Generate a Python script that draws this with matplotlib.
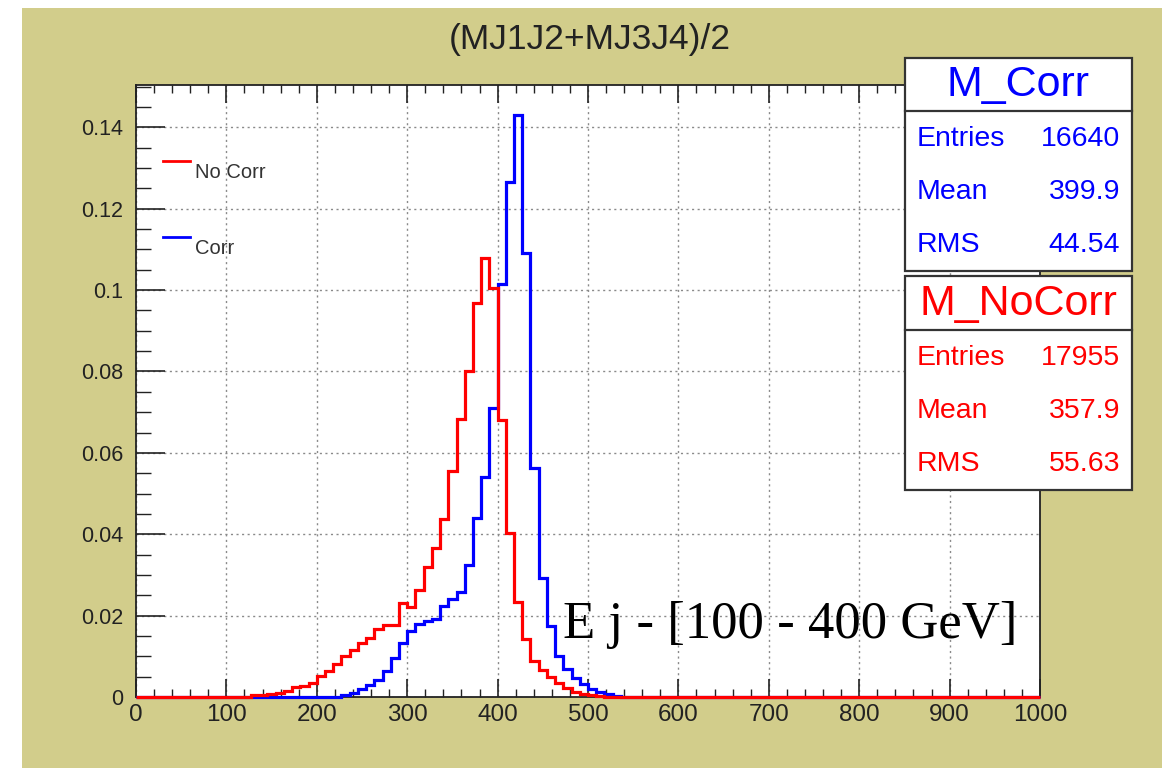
import numpy as np
import matplotlib
matplotlib.use("Agg")
import matplotlib.pyplot as plt
from matplotlib.patches import Rectangle
from matplotlib.lines import Line2D
from matplotlib.ticker import MultipleLocator, FuncFormatter

# ---------------- data ----------------
n_bins = 110
x_min, x_max = 0, 1000

nocorr_start_bin = 14
nocorr_values = [0.0004, 0.0006, 0.0007, 0.0009, 0.0014, 0.0024, 0.0027, 0.0035,
                 0.0051, 0.0064, 0.0080, 0.0100, 0.0115, 0.0133, 0.0145, 0.0168,
                 0.0178, 0.0178, 0.0232, 0.0222, 0.0263, 0.0320, 0.0367, 0.0438,
                 0.0555, 0.0683, 0.0802, 0.0968, 0.1080, 0.1006, 0.0681, 0.0403,
                 0.0233, 0.0143, 0.0088, 0.0066, 0.0050, 0.0034, 0.0022, 0.0013,
                 0.0007, 0.0004, 0.0002]

corr_start_bin = 25
corr_values = [0.0004, 0.0011, 0.0020, 0.0030, 0.0043, 0.0064, 0.0097, 0.0133,
               0.0163, 0.0179, 0.0188, 0.0192, 0.0223, 0.0241, 0.0259, 0.0325,
               0.0439, 0.0541, 0.0709, 0.1014, 0.1266, 0.1431, 0.1092, 0.0564,
               0.0293, 0.0174, 0.0100, 0.0069, 0.0047, 0.0032, 0.0020, 0.0012,
               0.0007, 0.0003]

title = "(MJ1J2+MJ3J4)/2"
corr_stats = [("Entries", "16640"), ("Mean", "399.9"), ("RMS", "44.54")]
nocorr_stats = [("Entries", "17955"), ("Mean", "357.9"), ("RMS", "55.63")]
annotation = "E j - [100 - 400 GeV]"

# ---------------- figure ----------------
W, H = 1162, 768
DPI = 100
OLIVE = "#d2cd8b"

def fx(px):
    return px / W

def fy(py):
    return 1 - py / H

plt.rcParams["font.family"] = ["Liberation Sans", "DejaVu Sans"]

fig = plt.figure(figsize=(W / DPI, H / DPI), dpi=DPI, facecolor="white")
# olive canvas (white strip on left and top)
fig.patches.append(Rectangle((fx(22), 0), 1 - fx(22), fy(8), transform=fig.transFigure,
                             facecolor=OLIVE, edgecolor="none", zorder=-10))

ax = fig.add_axes([fx(136), fy(697), fx(1040) - fx(136), fy(85) - fy(697)])
ax.set_facecolor("white")

edges = np.linspace(x_min, x_max, n_bins + 1)

def full_hist(start, vals):
    h = np.zeros(n_bins)
    h[start:start + len(vals)] = vals
    return h

h_corr = full_hist(corr_start_bin, corr_values)
h_nocorr = full_hist(nocorr_start_bin, nocorr_values)

ax.stairs(h_corr, edges, color="#0000ff", lw=2.3, clip_on=False, zorder=3)
ax.stairs(h_nocorr, edges, color="#ff0000", lw=2.3, clip_on=False, zorder=4)

ax.set_xlim(x_min, x_max)
ax.set_ylim(0, 0.1504)

ax.xaxis.set_major_locator(MultipleLocator(100))
ax.xaxis.set_minor_locator(MultipleLocator(20))
ax.yaxis.set_major_locator(MultipleLocator(0.02))
ax.yaxis.set_minor_locator(MultipleLocator(0.005))
ax.yaxis.set_major_formatter(FuncFormatter(lambda v, p: "%g" % round(v, 4)))

ax.tick_params(axis="x", which="major", direction="in", length=13, width=1.2,
               top=True, labelsize=17.5, pad=5, colors="#222222")
ax.tick_params(axis="x", which="minor", direction="in", length=6, width=1.0, top=True,
               colors="#222222")
ax.tick_params(axis="y", which="major", direction="in", length=21, width=1.2,
               labelsize=15.5, pad=9, colors="#222222")
ax.tick_params(axis="y", which="minor", direction="in", length=11, width=1.0,
               colors="#222222")

ax.grid(True, which="major", color="#8a8a8a", lw=1.0, linestyle=(0, (1.5, 2.5)))
ax.set_axisbelow(True)
for s in ax.spines.values():
    s.set_color("#222222")
    s.set_linewidth(1.3)

# title
fig.text(fx(590), fy(40), title, ha="center", va="center", fontsize=25.5, color="#222222")

# legend (manual, ROOT-like)
fig.lines.append(Line2D([fx(163), fx(190)], [fy(160.5), fy(160.5)], color="#ff0000", lw=2.0,
                        transform=fig.transFigure))
fig.text(fx(195), fy(172), "No Corr", ha="left", va="center", fontsize=14.5, color="#333333")
fig.lines.append(Line2D([fx(163), fx(190)], [fy(237), fy(237)], color="#0000ff", lw=2.0,
                        transform=fig.transFigure))
fig.text(fx(195), fy(249), "Corr", ha="left", va="center", fontsize=14.5, color="#333333")

# stats boxes
def stats_box(top, sep, bottom, name, rows, color):
    left, right = 905, 1132
    fig.patches.append(Rectangle((fx(left), fy(bottom)), fx(right) - fx(left), fy(top) - fy(bottom),
                                 transform=fig.transFigure, facecolor="white",
                                 edgecolor="#333333", lw=1.6, zorder=5))
    fig.lines.append(Line2D([fx(left), fx(right)], [fy(sep), fy(sep)], color="#333333", lw=1.6,
                            transform=fig.transFigure, zorder=6))
    fig.text(fx((left + right) / 2), fy((top + sep) / 2 + 1), name, ha="center", va="center",
             fontsize=31, color=color, zorder=7)
    row_h = (bottom - sep) / len(rows)
    for i, (k, v) in enumerate(rows):
        yc = sep + row_h * (i + 0.5) + 1
        fig.text(fx(917), fy(yc), k, ha="left", va="center", fontsize=20.5, color=color, zorder=7)
        fig.text(fx(1120), fy(yc), v, ha="right", va="center", fontsize=20.5, color=color, zorder=7)

stats_box(58, 111, 271, "M_Corr", corr_stats, "#0000ff")
stats_box(276, 330, 490, "M_NoCorr", nocorr_stats, "#ff0000")

# annotation
ax.text(0.4723, 0.097, annotation, transform=ax.transAxes, ha="left", va="baseline",
        fontsize=38, family=["Liberation Serif", "DejaVu Serif"], color="black", zorder=6)

fig.savefig("out.png", dpi=DPI, facecolor=fig.get_facecolor())
